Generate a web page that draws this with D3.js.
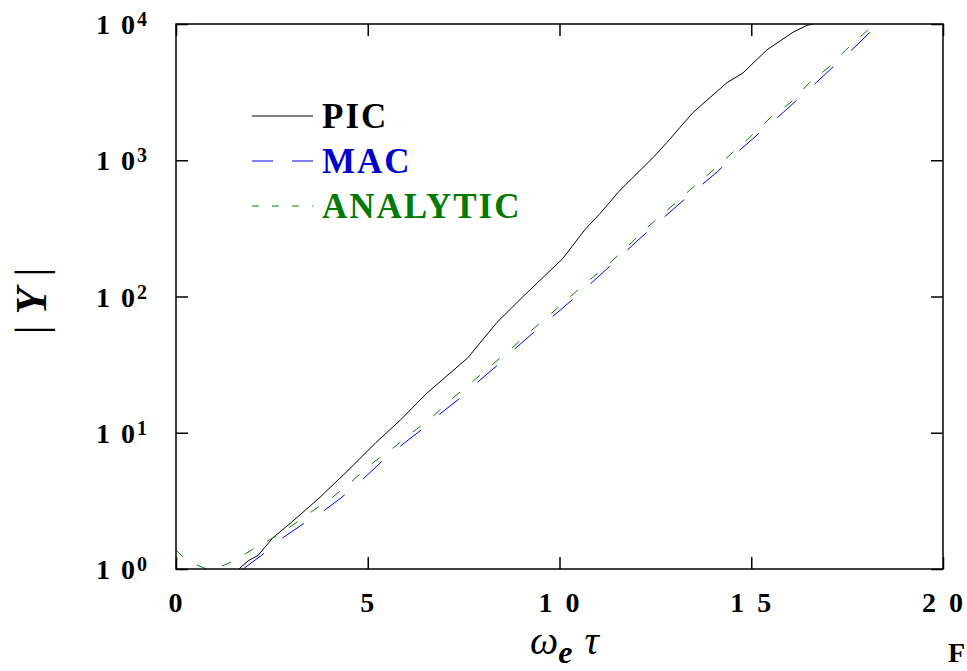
<!DOCTYPE html>
<html>
<head>
<meta charset="utf-8">
<script src="https://cdn.jsdelivr.net/npm/d3@7"></script>
<style>
	body { margin: 0; background: #fff; }
	svg { display: block; }
	text { font-family: "Liberation Serif", "Times New Roman", Times, serif; font-weight: 700; }
</style>
</head>
<body>
<div id="chart"></div>
<script>
// values (x = omega_e tau, y = |Y|)
var picX = [1.64, 1.88, 2.14, 2.53, 3.0, 3.73, 4.51, 5.22, 5.84, 6.54, 7.61, 8.37, 9.05, 10.09, 10.66, 11.06, 11.58, 12.44, 12.8, 13.48, 14.37, 14.78, 15.41, 16.09, 16.45, 16.6];
var picY = [1.0, 1.148, 1.259, 1.698, 2.188, 3.311, 5.37, 8.51, 12.3, 19.5, 35.5, 64.6, 100, 190.5, 309, 407, 603, 1047, 1349, 2239, 3715, 4365, 6457, 8710, 9772, 10000];

var macX = [1.75, 2.24, 2.74, 3.31, 3.78, 4.3, 4.88, 5.35, 5.82, 6.39, 6.88, 7.38, 7.9, 8.45, 8.92, 9.49, 9.96, 10.51, 11.03, 11.55, 12.02, 12.59, 13.09, 13.61, 14.11, 14.65, 15.15, 15.7, 16.19, 16.71, 17.24, 17.76, 18.28, 18.3];
var macY = [1.0, 1.268, 1.66, 2.138, 2.576, 3.319, 4.581, 6.095, 7.852, 10.47, 13.74, 17.7, 23.99, 32.51, 43.35, 59.7, 76.91, 104.3, 141.3, 191.9, 255.3, 352.4, 469.9, 625.2, 820.4, 1151, 1531, 2075, 2767, 3750, 5176, 7015, 9840, 10000];

var anaX = [0, 0.2, 0.45, 0.8, 0.95, 1.2, 1.51, 2.01, 2.53, 3.05, 3.52, 4.09, 4.62, 5.16, 5.66, 6.18, 6.68, 7.22, 7.72, 8.27, 8.76, 9.31, 9.8, 10.33, 10.85, 11.37, 11.84, 12.36, 12.88, 13.4, 13.92, 14.47, 14.97, 15.49, 16.01, 16.51, 17.03, 17.52, 18.04, 18.2];
var anaY = [1.377, 1.216, 1.096, 1.0, 1.012, 1.052, 1.146, 1.403, 1.69, 2.104, 2.618, 3.373, 4.498, 6.095, 7.727, 10.14, 13.06, 17.99, 23.55, 31.99, 41.88, 57.68, 75.68, 102.6, 136.8, 182.4, 242.7, 335, 446.7, 605, 805, 1112, 1483, 2042, 2630, 3690, 4831, 6668, 9036, 10000];

var xTicks = [0, 5, 10, 15, 20];
var xTickLabels = ["0", "5", "1 0", "1 5", "2 0"];
var yTicks = [1, 10, 100, 1000, 10000];
var yTickExp = ["0", "1", "2", "3", "4"];

var seriesNames = ["PIC", "MAC", "ANALYTIC"];
var seriesColors = ["#000000", "#0000e0", "#008000"];
var textColors = ["#000000", "#0000cc", "#007a00"];

var W = 967, H = 671;
var margin = {top: 24, right: 24, bottom: 102, left: 176};

var svg = d3.select("#chart").append("svg")
	.attr("width", W)
	.attr("height", H);

var x = d3.scaleLinear().domain([0, 20]).range([margin.left, W - margin.right]);
var y = d3.scaleLog().domain([1, 10000]).range([H - margin.bottom, margin.top]);

svg.append("clipPath").attr("id", "clip")
	.append("rect")
	.attr("x", x(0)).attr("y", y(10000))
	.attr("width", x(20) - x(0)).attr("height", y(1) - y(10000));

// inward ticks on all four sides
function ticky(g) {
	g.select(".domain").remove();
	g.selectAll(".tick line").attr("stroke", "#000").attr("stroke-width", 1.5);
}
svg.append("g").attr("transform", "translate(" + x(0) + ",0)")
	.call(d3.axisLeft(y).tickValues(yTicks).tickSize(-12).tickFormat(""))
	.call(ticky);
svg.append("g").attr("transform", "translate(" + x(20) + ",0)")
	.call(d3.axisRight(y).tickValues(yTicks).tickSize(-12).tickFormat(""))
	.call(ticky);
svg.append("g").attr("transform", "translate(0," + y(1) + ")")
	.call(d3.axisBottom(x).tickValues(xTicks).tickSize(-12).tickFormat(""))
	.call(ticky);
svg.append("g").attr("transform", "translate(0," + y(10000) + ")")
	.call(d3.axisTop(x).tickValues(xTicks).tickSize(-12).tickFormat(""))
	.call(ticky);

// curves
var line = d3.line()
	.x(function(d) { return x(d[0]); })
	.y(function(d) { return y(d[1]); });

var curves = [
	{pts: d3.zip(picX, picY), dash: null},
	{pts: d3.zip(macX, macY), dash: "26,24"},
	{pts: d3.zip(anaX, anaY), dash: "10,16"}
];
var plot = svg.append("g").attr("clip-path", "url(#clip)");
curves.forEach(function(c, i) {
	plot.append("path")
		.attr("d", line(c.pts))
		.attr("fill", "none")
		.attr("stroke", seriesColors[i])
		.attr("stroke-width", 1)
		.attr("stroke-dasharray", c.dash);
});

// frame
svg.append("rect")
	.attr("x", x(0)).attr("y", y(10000))
	.attr("width", x(20) - x(0)).attr("height", y(1) - y(10000))
	.attr("fill", "none").attr("stroke", "#000").attr("stroke-width", 1.5);

// tick labels
svg.selectAll(".xlab").data(xTicks).enter().append("text")
	.attr("class", "xlab")
	.attr("x", function(d) { return x(d) + 1; })
	.attr("y", 612)
	.attr("text-anchor", "middle")
	.attr("font-size", 28)
	.attr("letter-spacing", 3)
	.attr("xml:space", "preserve")
	.text(function(d, i) { return xTickLabels[i]; });

var ylab = svg.selectAll(".ylab").data(yTicks).enter().append("text")
	.attr("class", "ylab")
	.attr("x", 147)
	.attr("y", function(d) { return y(d) + 10; })
	.attr("text-anchor", "end")
	.attr("font-size", 28)
	.attr("xml:space", "preserve");
ylab.append("tspan").attr("letter-spacing", 2).text("1 0");
ylab.append("tspan").attr("font-size", 20).attr("dy", -8)
	.text(function(d, i) { return yTickExp[i]; });

// axis titles
var xt = svg.append("text")
	.attr("x", 530).attr("y", 654)
	.attr("font-size", 40)
	.attr("font-style", "italic")
	.style("font-weight", "normal");
xt.append("tspan").text("\u03c9");
xt.append("tspan").attr("font-size", 32).style("font-weight", "bold").attr("dy", 9).text("e");
xt.append("tspan").attr("dy", -9).attr("dx", 12).text("\u03c4");

svg.append("text")
	.attr("transform", "translate(46,301) rotate(-90)")
	.attr("text-anchor", "middle")
	.attr("font-size", 44)
	.attr("xml:space", "preserve")
	.html('<tspan style="font-weight:normal">|</tspan> <tspan font-style="italic">Y</tspan> <tspan style="font-weight:normal">|</tspan>');

svg.append("text")
	.attr("x", 948).attr("y", 662)
	.attr("font-size", 28)
	.text("F");

// legend
var leg = svg.append("g");
var legDash = [null, "21,19", "7,13"];
seriesNames.forEach(function(name, i) {
	var ly = 116 + i * 45;
	leg.append("line")
		.attr("x1", 252).attr("x2", 313)
		.attr("y1", ly).attr("y2", ly)
		.attr("stroke", seriesColors[i])
		.attr("stroke-width", 1)
		.attr("stroke-dasharray", legDash[i]);
	leg.append("text")
		.attr("x", 322).attr("y", ly + 12)
		.attr("font-size", 35)
		.attr("letter-spacing", 2)
		.attr("fill", textColors[i])
		.text(name);
});
</script>
</body>
</html>
